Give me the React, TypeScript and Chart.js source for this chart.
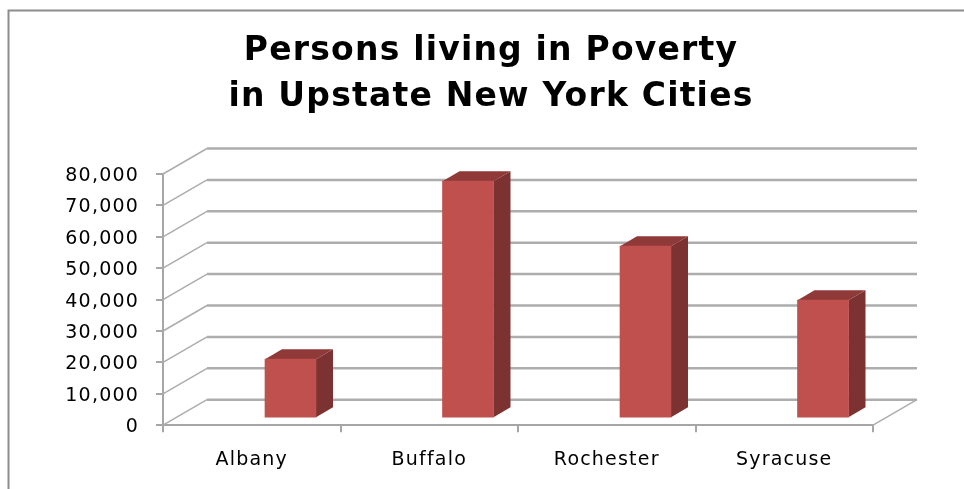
import { useEffect, useRef } from "react";
import { Chart, registerables } from "chart.js";

Chart.register(...registerables);

const categories = ["Albany", "Buffalo", "Rochester", "Syracuse"];
const poverty = [18800, 75500, 54800, 37600];
const yMax = 80000;
const yStep = 10000;
const titleLines = ["Persons living in Poverty", "in Upstate New York Cities"];

const DX = 44, DY = -25.5;          // floor depth of the 3D box
const BAR_DX = 38.75, BAR_DY = -7;  // where the bars sit on the floor
const SIDE_DX = 17, SIDE_DY = -10;  // depth of one bar
const FACE = "#c0504d", SIDE = "#7b3230", TOP = "#8f3a38";
const GRID = "#adadad", AXIS = "#a6a6a6", FRAME = "#8c8c8c";
const TITLE_CENTER = 491;

const scene = {
  id: "scene",
  afterLayout(c: any) {
    c.titleBlock.left = TITLE_CENTER - 300;
    c.titleBlock.right = TITLE_CENTER + 300;
  },
  beforeDraw(c: any) {
    const { ctx, width, height } = c;
    ctx.fillStyle = "#fff";
    ctx.fillRect(0, 0, width, height);
    ctx.strokeStyle = FRAME;
    ctx.lineWidth = 2;
    ctx.beginPath();
    ctx.moveTo(8.5, height);
    ctx.lineTo(8.5, 10.5);
    ctx.lineTo(width, 10.5);
    ctx.stroke();
    ctx.letterSpacing = "1.2px";
  },
  beforeDatasetsDraw(c: any) {
    const { ctx, chartArea: a, scales } = c;
    ctx.save();
    ctx.strokeStyle = GRID;
    scales.y.ticks.forEach((t: any) => {
      const y = scales.y.getPixelForValue(t.value);
      ctx.lineWidth = 1.5;
      ctx.beginPath();
      ctx.moveTo(a.left, y);
      ctx.lineTo(a.left + DX, y + DY);
      ctx.stroke();
      ctx.lineWidth = 2.5;
      ctx.beginPath();
      ctx.moveTo(a.left + DX, y + DY);
      ctx.lineTo(a.right + DX, y + DY);
      ctx.stroke();
    });
    ctx.lineWidth = 1.5;
    ctx.beginPath();
    ctx.moveTo(a.right, a.bottom);
    ctx.lineTo(a.right + DX, a.bottom + DY);
    ctx.stroke();
    ctx.restore();
    // bars: native elements, moved onto the floor of the box
    ctx.save();
    ctx.translate(BAR_DX, BAR_DY);
    c.getDatasetMeta(0).data.forEach((b: any) => {
      const l = b.x - b.width / 2, r = b.x + b.width / 2, top = b.y, base = b.base;
      ctx.fillStyle = SIDE;
      ctx.beginPath();
      ctx.moveTo(r, top);
      ctx.lineTo(r + SIDE_DX, top + SIDE_DY);
      ctx.lineTo(r + SIDE_DX, base + SIDE_DY);
      ctx.lineTo(r, base);
      ctx.closePath();
      ctx.fill();
      ctx.fillStyle = TOP;
      ctx.beginPath();
      ctx.moveTo(l, top);
      ctx.lineTo(l + SIDE_DX, top + SIDE_DY);
      ctx.lineTo(r + SIDE_DX, top + SIDE_DY);
      ctx.lineTo(r, top);
      ctx.closePath();
      ctx.fill();
    });
  },
  afterDatasetsDraw(c: any) {
    c.ctx.restore();
  },
};

export default function App() {
  const ref = useRef<HTMLCanvasElement>(null);
  useEffect(() => {
    document.body.style.margin = "0";
    const chart = new Chart(ref.current!, {
      type: "bar",
      data: {
        labels: categories,
        datasets: [
          { data: poverty, backgroundColor: FACE, barThickness: 51, borderWidth: 0 },
        ],
      },
      plugins: [scene],
      options: {
        animation: false,
        responsive: false,
        layout: { padding: { left: 65, right: 91, top: 8, bottom: 2 } },
        plugins: {
          legend: { display: false },
          tooltip: { enabled: false },
          title: {
            display: true,
            text: titleLines,
            color: "#000",
            font: { family: "'DejaVu Sans'", weight: "bold", size: 33, lineHeight: 1.394 },
            padding: { top: 20, bottom: 54 },
          },
        },
        scales: {
          x: {
            grid: { offset: true, drawOnChartArea: false, color: AXIS, lineWidth: 2, tickLength: 7 },
            border: { color: AXIS, width: 2 },
            ticks: { color: "#000", font: { family: "'DejaVu Sans'", size: 19 }, padding: 16, maxRotation: 0 },
          },
          y: {
            min: 0,
            max: yMax,
            afterFit: (s: any) => { s.width = 98; },
            grid: { drawOnChartArea: false, color: AXIS, lineWidth: 2, tickLength: 7 },
            border: { color: AXIS, width: 2 },
            ticks: {
              stepSize: yStep,
              color: "#000",
              font: { family: "'DejaVu Sans'", size: 19 },
              padding: 17,
              labelOffset: 2,
              callback: (v: any) => Number(v).toLocaleString("en-US"),
            },
          },
        },
      },
    } as any);
    return () => chart.destroy();
  }, []);
  return <canvas ref={ref} width={964} height={489} style={{ display: "block" }} />;
}
